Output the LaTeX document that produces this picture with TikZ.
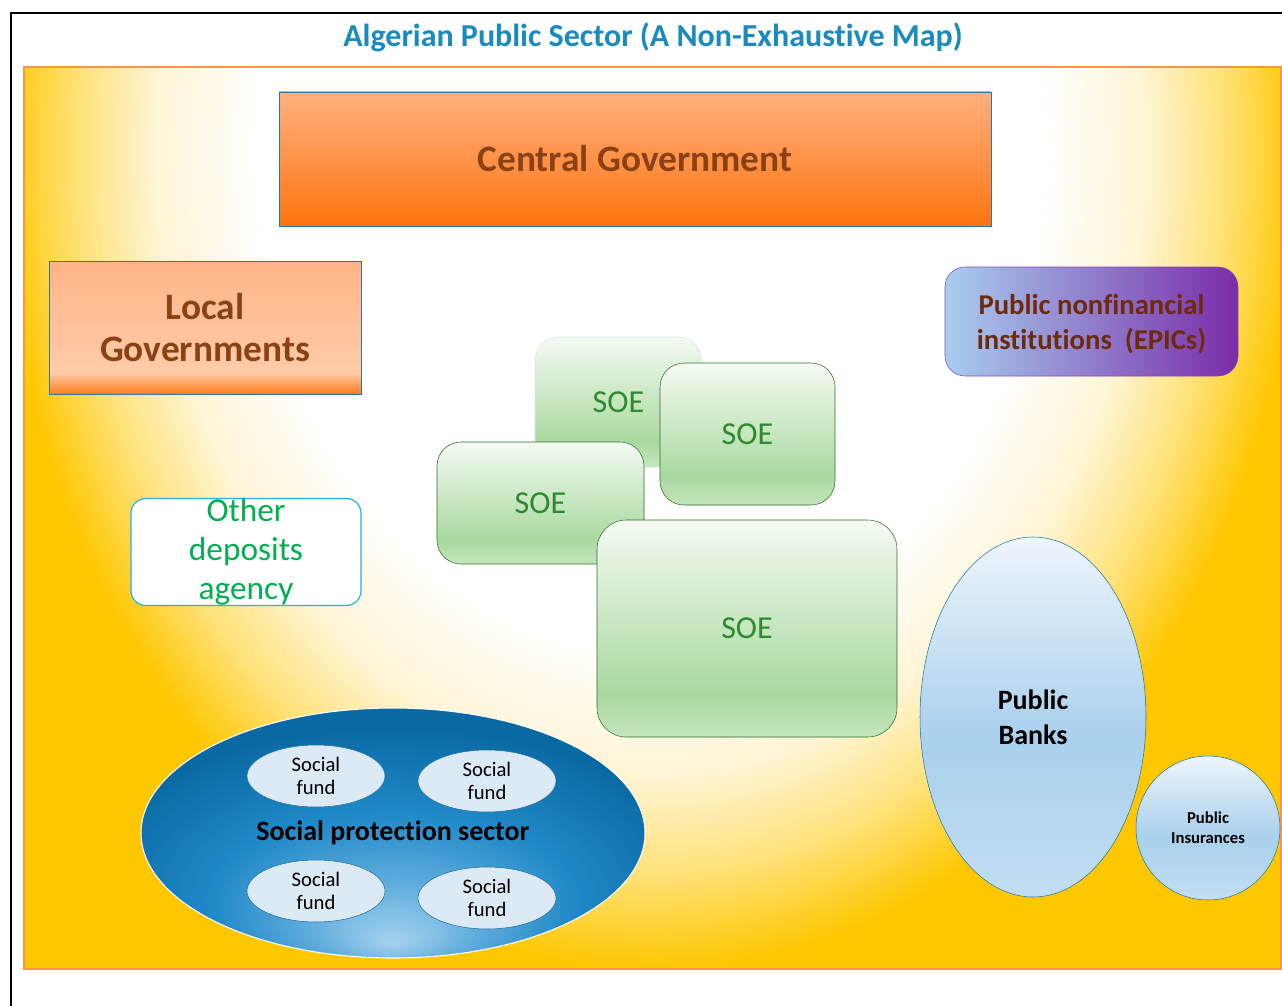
\documentclass[tikz,border=0pt]{standalone}
\usepackage{fontspec}
\setmainfont{Carlito}[Ligatures=NoCommon]
\usetikzlibrary{shapes.geometric,positioning}

\definecolor{titleblue}{HTML}{1A8BBF}
\definecolor{panelline}{HTML}{F79646}
\definecolor{sunA}{HTML}{FFF5D6}
\definecolor{sunB}{HTML}{FFE27A}
\definecolor{sunC}{HTML}{FFC700}
\definecolor{govtop}{HTML}{FFAF80}
\definecolor{govbot}{HTML}{FF7510}
\definecolor{govline}{HTML}{2F75A0}
\definecolor{govtext}{HTML}{8A4215}
\definecolor{loctop}{HTML}{FFB487}
\definecolor{locmid}{HTML}{FFCBA8}
\definecolor{locbot}{HTML}{FF7C1A}
\definecolor{epicleft}{HTML}{A8CDEF}
\definecolor{epicright}{HTML}{7A2CA8}
\definecolor{epicline}{HTML}{8A45B8}
\definecolor{epictext}{HTML}{6E2A0C}
\definecolor{otherline}{HTML}{22B0EC}
\definecolor{othertext}{HTML}{00B050}
\definecolor{soetop}{HTML}{F5FAF3}
\definecolor{soemid}{HTML}{A9D99F}
\definecolor{soebot}{HTML}{C4E5BC}
\definecolor{soeline}{HTML}{2F6B2B}
\definecolor{soefaint}{HTML}{D6E6F2}
\definecolor{soetext}{HTML}{2E8A2E}
\definecolor{banktop}{HTML}{EEF5FC}
\definecolor{bankmid}{HTML}{A9D0ED}
\definecolor{bankbot}{HTML}{C2DEF2}
\definecolor{bankline}{HTML}{1C77A6}
\definecolor{soclight}{HTML}{A6D2EE}
\definecolor{socpale}{HTML}{62AEDE}
\definecolor{socmid}{HTML}{2089C8}
\definecolor{socdark}{HTML}{0A69A3}
\definecolor{fundfill}{HTML}{DCEAF6}
\definecolor{fundline}{HTML}{1F6E9C}

% the path fits the middle 50bp of each shading
\pgfdeclareradialshading{sunburst}{\pgfpoint{0bp}{0bp}}{color(0bp)=(white); color(15bp)=(white); color(19bp)=(sunA); color(22bp)=(sunB); color(25bp)=(sunC); color(50bp)=(sunC)}
\pgfdeclareverticalshading{soefill}{100bp}{color(0bp)=(soebot); color(25bp)=(soebot); color(35bp)=(soemid); color(75bp)=(soetop); color(100bp)=(soetop)}
\pgfdeclareverticalshading{localfill}{100bp}{color(0bp)=(locbot); color(25bp)=(locbot); color(33bp)=(locmid); color(75bp)=(loctop); color(100bp)=(loctop)}
\pgfdeclareverticalshading{bankfill}{100bp}{color(0bp)=(bankbot); color(25bp)=(bankbot); color(47bp)=(bankmid); color(75bp)=(banktop); color(100bp)=(banktop)}
\pgfdeclareradialshading{socialfill}{\pgfpoint{0bp}{-22bp}}{color(0bp)=(soclight); color(8bp)=(socpale); color(18bp)=(socmid); color(30bp)=(socdark); color(50bp)=(socdark)}

\begin{document}
\begin{tikzpicture}
			[x=0.75pt,y=-0.75pt,on grid,
			gov/.style={rectangle,draw=govline,thin,font=\fontsize{28}{32}\selectfont\bfseries,text=govtext,align=center},
			soe/.style={rectangle,rounded corners=18pt,shading=soefill,draw=soeline,thin,text=soetext,font=\fontsize{24}{28}\selectfont},
			fund/.style={ellipse,inner sep=0pt,fill=fundfill,draw=fundline,thin,minimum width=103.5pt,minimum height=46.5pt,align=center,font=\fontsize{15.5}{17.25}\selectfont},
			every label/.style={black}]

			\useasboundingbox (0,0) rectangle (1282,1006);
			\fill[white] (0,0) rectangle (1282,1006);
			\draw[line width=1.5pt] (11,1006) -- (11,13) -- (1282,13);

			\node (title) at (653,37) {\fontsize{24}{28}\selectfont\bfseries\color{titleblue}Algerian Public Sector (A Non-Exhaustive Map)};

			% yellow panel
			\fill[sunC] (24,67) rectangle (1281,969);
			\begin{scope}
				\clip (24,67) rectangle (1281,969);
				\shade[shading=sunburst] (650,150) ellipse (650 and 820);
			\end{scope}
			\draw[panelline,line width=0.8pt] (24,67) rectangle (1281,969);

			\node [gov,top color=govtop,bottom color=govbot,minimum width=534pt,minimum height=100.5pt] (cgov) at (635,159) {Central Government};
			\node [gov,shading=localfill,minimum width=234pt,minimum height=99.75pt] (lgov) at (205,327.5) {Local\\Governments};

			\node [rectangle,rounded corners=15pt,left color=epicleft,right color=epicright,draw=epicline,thin,
				minimum width=219.75pt,minimum height=81.75pt,align=center,text=epictext,text depth=0pt,
				font=\fontsize{21.5}{26.25}\selectfont\bfseries] (epic) at (1091.5,321.5) {Public nonfinancial\\institutions~~(EPICs)};

			\node [rectangle,rounded corners=11pt,fill=white,draw=otherline,line width=0.9pt,inner sep=0pt,
				minimum width=172.5pt,minimum height=80.25pt,align=center,text=othertext,
				font=\fontsize{25}{29.25}\selectfont] (other) at (246,552) {Other\\deposits\\agency};

			% state-owned enterprises
			\node [soe,draw=soefaint,minimum width=125.25pt,minimum height=97.5pt] (soe1) at (618.5,402) {SOE};
			\node [soe,minimum width=131.25pt,minimum height=106.5pt] (soe2) at (747.5,434) {SOE};
			\node [soe,minimum width=155.25pt,minimum height=91.5pt] (soe3) at (540.5,503) {SOE};
			\node [soe,rounded corners=22pt,minimum width=225pt,minimum height=162.75pt] (soe4) at (747,628.5) {SOE};

			\node [ellipse,inner sep=0pt,shading=bankfill,draw=bankline,thin,minimum width=169.5pt,minimum height=270pt,
				align=center,font=\fontsize{21}{26.25}\selectfont\bfseries] (banks) at (1033,717) {Public\\Banks};
			\node [circle,inner sep=0pt,shading=bankfill,draw=bankline,thin,minimum size=108pt,
				align=center,font=\fontsize{12.5}{15}\selectfont\bfseries] (insur) [below right=83.25pt and 131.25pt of banks] {Public\\Insurances};

			\node [ellipse,inner sep=0pt,shading=socialfill,draw=white,thick,minimum width=378pt,minimum height=187.5pt,
				font=\fontsize{21}{24}\selectfont\bfseries] (social) at (393,833) {Social protection sector};
				\node [fund] (fund1) [above left=42.75pt and 57.75pt of social]  {Social\\fund};
				\node [fund] (fund2) [above right=39pt and 70.5pt of social]     {Social\\fund};
				\node [fund] (fund3) [below left=43.5pt and 57.75pt of social]   {Social\\fund};
				\node [fund] (fund4) [below right=48.75pt and 70.5pt of social]  {Social\\fund};
\end{tikzpicture}
\end{document}
